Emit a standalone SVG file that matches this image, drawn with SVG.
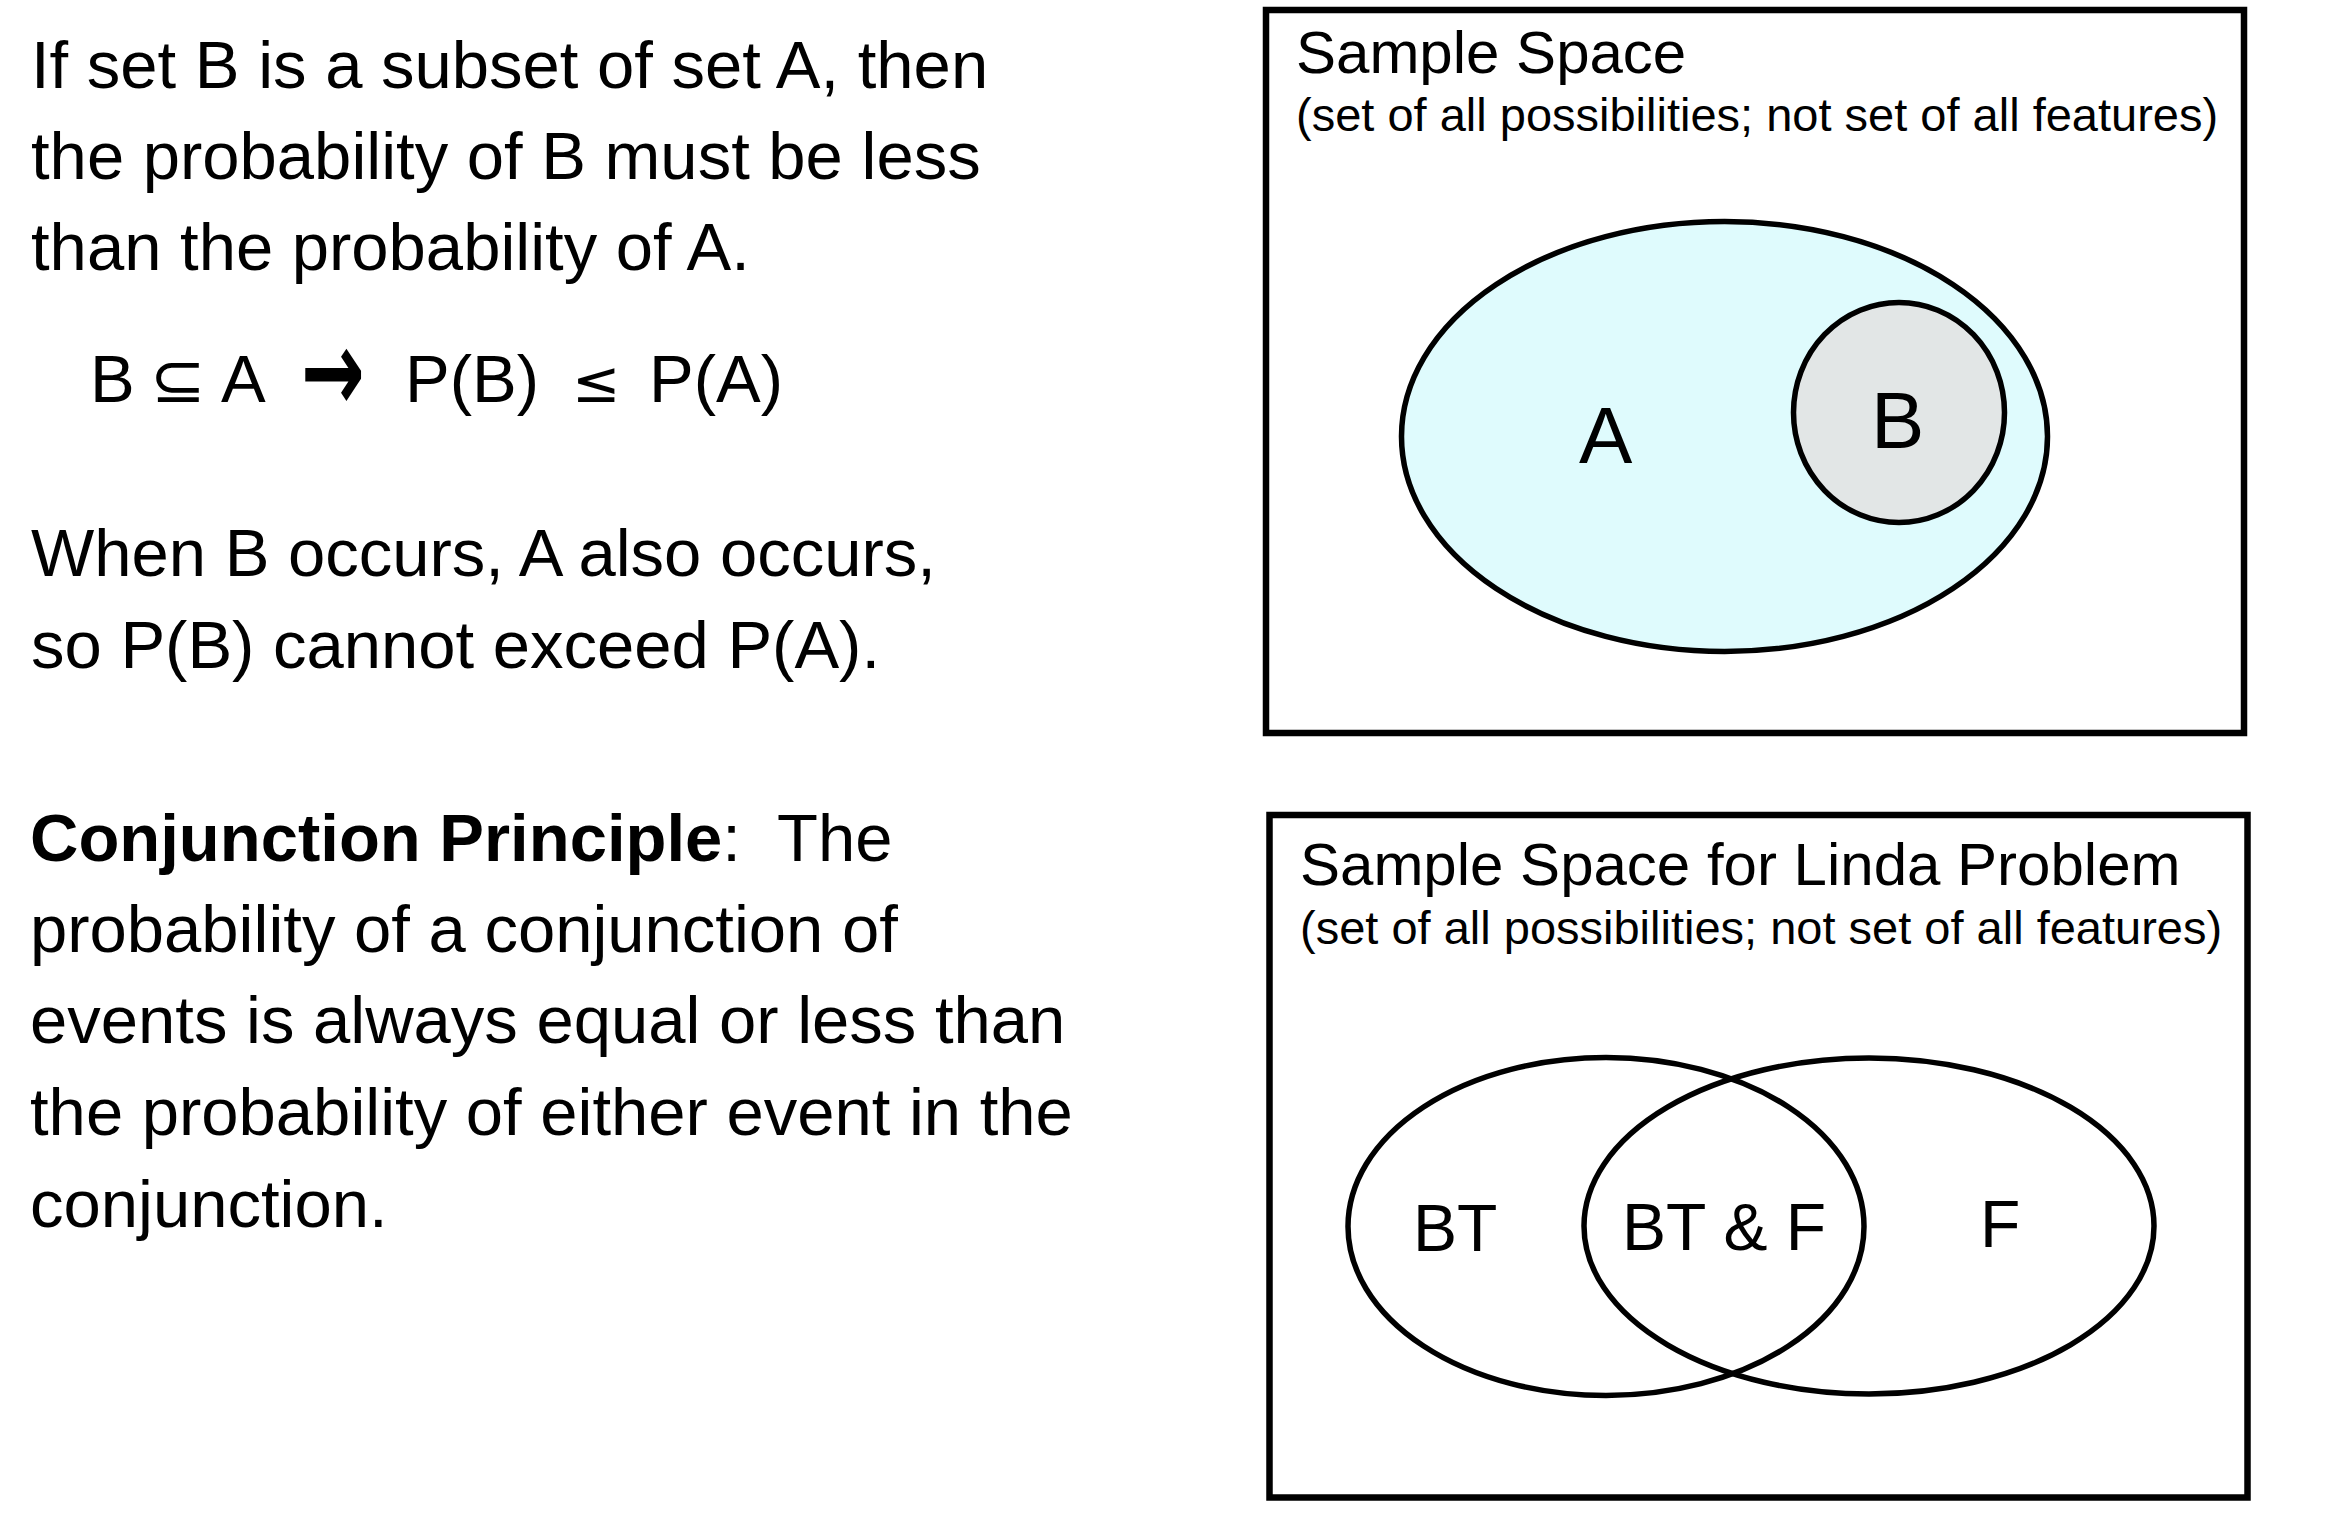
<svg xmlns="http://www.w3.org/2000/svg" width="2343" height="1538" viewBox="0 0 2343 1538">
<style>
  .t { font-family: "Liberation Sans", Arial, sans-serif; font-size: 67px; fill: #000; }
  .b { font-weight: bold; }
  .sym { font-family: "DejaVu Sans", sans-serif; fill: #000; }
  .title { font-family: "Liberation Sans", Arial, sans-serif; font-size: 60px; fill: #000; }
  .sub { font-family: "Liberation Sans", Arial, sans-serif; font-size: 47px; fill: #000; }
  .lbl { font-family: "Liberation Sans", Arial, sans-serif; font-size: 80px; fill: #000; }
  .vl { font-family: "Liberation Sans", Arial, sans-serif; font-size: 66px; fill: #000; }
  .box { fill: #fff; stroke: #000; stroke-width: 6.5; }
  .set { stroke: #000; stroke-width: 5.5; }
</style>
<rect width="2343" height="1538" fill="#fff"/>

<g id="text-subset">
  <text class="t" x="31" y="87.5">If set B is a subset of set A, then</text>
  <text class="t" x="31" y="179">the probability of B must be less</text>
  <text class="t" x="31" y="270">than the probability of A.</text>
</g>

<g id="formula">
  <text class="t" x="90" y="402">B</text>
  <text class="sym" transform="translate(150,402) scale(1.15,1.1)" x="0" y="0" font-size="58">⊆</text>
  <text class="t" x="221" y="402">A</text>
  <text class="sym" transform="translate(301,377) scale(1.12,1.7)" x="0" y="20" font-size="68" font-weight="bold">→</text>
  <text class="t" x="405" y="402">P(B)</text>
  <text class="sym" x="572" y="402" font-size="58">≤</text>
  <text class="t" x="649" y="402">P(A)</text>
</g>

<g id="text-occurs">
  <text class="t" x="31" y="576">When B occurs, A also occurs,</text>
  <text class="t" x="31" y="668">so P(B) cannot exceed P(A).</text>
</g>

<g id="text-conjunction">
  <text class="t" x="30" y="861" xml:space="preserve"><tspan class="b">Conjunction Principle</tspan>:  The</text>
  <text class="t" x="30" y="952">probability of a conjunction of</text>
  <text class="t" x="30" y="1043">events is always equal or less than</text>
  <text class="t" x="30" y="1135">the probability of either event in the</text>
  <text class="t" x="30" y="1227">conjunction.</text>
</g>

<g id="sample-space-box">
  <rect class="box" x="1266" y="10" width="978" height="723"/>
  <text class="title" x="1296" y="72.5">Sample Space</text>
  <text class="sub" x="1296" y="130.5">(set of all possibilities; not set of all features)</text>
</g>

<g id="set-A">
  <ellipse class="set" cx="1724.5" cy="436.5" rx="323" ry="215" fill="#dffbfd"/>
  <text class="lbl" x="1579" y="463">A</text>
</g>

<g id="set-B">
  <ellipse class="set" cx="1899" cy="412.5" rx="105.5" ry="110" fill="#e2e6e6"/>
  <text class="lbl" x="1871" y="448">B</text>
</g>

<g id="linda-box">
  <rect class="box" x="1269.5" y="815" width="978" height="682.5"/>
  <text class="title" x="1300" y="885">Sample Space for Linda Problem</text>
  <text class="sub" x="1300" y="943.5">(set of all possibilities; not set of all features)</text>
</g>

<g id="set-BT">
  <ellipse class="set" cx="1606" cy="1226.5" rx="258" ry="169" fill="none"/>
  <text class="vl" x="1413" y="1250.5">BT</text>
</g>

<g id="set-F">
  <ellipse class="set" cx="1869" cy="1226" rx="285" ry="168" fill="none"/>
  <text class="vl" x="1980" y="1247">F</text>
</g>

<g id="set-BT-and-F">
  <text class="vl" x="1622" y="1249.5">BT &amp; F</text>
</g>

<g id="connectors"/>
</svg>
